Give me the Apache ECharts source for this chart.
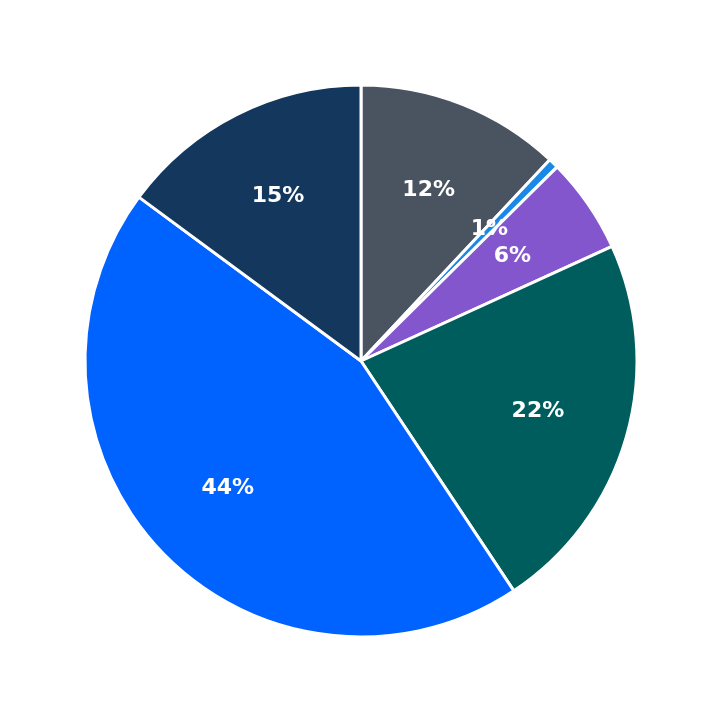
<!DOCTYPE html>
<html><head><meta charset="utf-8">
<script src="https://cdn.jsdelivr.net/npm/echarts@6/dist/echarts.min.js"></script>
<style>html,body{margin:0;padding:0;background:#fff}#c{width:723px;height:723px}</style>
</head><body><div id="c"></div>
<script>
const categories = ['A','B','C','D','E','F'];
const values = [12.0, 0.6, 5.6, 22.5, 44.5, 14.9];
const colors = ['#4a5360','#1b87e6','#8456ce','#005d5d','#0062ff','#14375e'];
const data = categories.map((n,i)=>({name:n,value:values[i],itemStyle:{color:colors[i]}}));
const chart = echarts.init(document.getElementById('c'));
chart.setOption({
  animation:false,
  series:[
    {type:'pie',center:[361,361],radius:[0,276],startAngle:90,clockwise:true,data:data,
     label:{show:false},labelLine:{show:false},
     itemStyle:{borderColor:'#fff',borderWidth:3}},
    {type:'pie',center:[361,361],radius:[86,276],startAngle:90,clockwise:true,silent:true,
     data:data.map(d=>({name:d.name,value:d.value,itemStyle:{color:'rgba(0,0,0,0)'}})),
     percentPrecision:2,
     label:{show:true,position:'inside',color:'#fff',fontSize:22,fontWeight:'bold',fontFamily:'DejaVu Sans',
       formatter:p=>Math.round(p.percent)+'%'},
     labelLine:{show:false}}
  ]
});
</script></body></html>
